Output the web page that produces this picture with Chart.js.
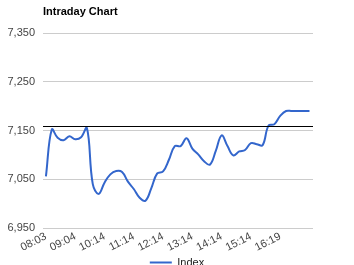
<!DOCTYPE html>
<html>
<head>
<meta charset="utf-8">
<script src="https://cdn.jsdelivr.net/npm/chart.js@4/dist/chart.umd.min.js"></script>
<style>
  html, body { margin: 0; padding: 0; background: #fff; overflow: hidden; }
  #wrap { position: absolute; left: 0; top: 0; width: 354px; height: 278px; }
</style>
</head>
<body>
<div id="wrap"><canvas id="intraday"></canvas></div>
<script>
// time labels shown every 5 samples
const timeLabels = ['08:03', '09:04', '10:14', '11:14', '12:14', '13:14', '14:14', '15:14', '16:19'];
const labelEvery = 5;

const indexValues = [
  7056, 7152, 7135, 7130, 7138, 7132, 7136, 7155, 7040, 7020,
  7043, 7060, 7067, 7065, 7045, 7030, 7012, 7006, 7032, 7062,
  7066, 7090, 7118, 7118, 7134, 7113, 7101, 7087, 7080, 7108,
  7140, 7118, 7099, 7107, 7110, 7124, 7122, 7120, 7160, 7163,
  7180, 7190, 7190, 7190, 7190, 7190
];

const refLevel = 7160;
const yTicks = [6950, 7050, 7150, 7250, 7350];

const points = indexValues.map((v, i) => ({ x: i, y: v }));

const titleAndRef = {
  id: 'titleAndRef',
  afterLayout(chart) {
    // centre the legend on the whole canvas, not the padded area
    if (chart.legend) {
      chart.legend.left = 0;
      chart.legend.right = chart.width;
      chart.legend.width = chart.width;
    }
  },
  afterDatasetsDraw(chart) {
    const { ctx, chartArea, scales } = chart;
    const y = Math.round(scales.y.getPixelForValue(refLevel)) + 0.5;
    ctx.save();
    ctx.strokeStyle = '#000';
    ctx.lineWidth = 1;
    ctx.beginPath();
    ctx.moveTo(chartArea.left, y);
    ctx.lineTo(chartArea.right, y);
    ctx.stroke();
    ctx.restore();
  },
  afterDraw(chart) {
    const { ctx, chartArea } = chart;
    ctx.save();
    ctx.font = 'bold 11px "Liberation Sans", Arial, sans-serif';
    ctx.fillStyle = '#000';
    ctx.textBaseline = 'middle';
    ctx.fillText('Intraday Chart', chartArea.left, 12);
    ctx.restore();
  }
};

new Chart(document.getElementById('intraday'), {
  type: 'line',
  data: {
    datasets: [{
      label: 'Index',
      data: points,
      borderColor: '#3366cc',
      backgroundColor: '#3366cc',
      borderWidth: 2,
      pointRadius: 0,
      tension: 0.4,
      fill: false,
    }]
  },
  options: {
    responsive: true,
    maintainAspectRatio: false,
    animation: false,
    layout: { padding: { top: 33, right: 41, left: 0, bottom: 0 } },
    plugins: {
      tooltip: { enabled: false },
      legend: {
        position: 'bottom',
        labels: {
          usePointStyle: true,
          pointStyle: 'line',
          pointStyleWidth: 22,
          boxHeight: 10,
          color: '#222',
          padding: 4,
          font: { family: '"Liberation Sans", Arial, sans-serif', size: 11 },
        }
      }
    },
    scales: {
      x: {
        type: 'linear',
        min: -0.5,
        max: 45.6,
        grid: { display: false, drawTicks: false },
        border: { display: false },
        afterFit(scale) { scale.height = 25; },
        ticks: {
          stepSize: labelEvery,
          includeBounds: false,
          autoSkip: false,
          minRotation: 27,
          maxRotation: 27,
          padding: 2,
          color: '#444',
          font: { family: '"Liberation Sans", Arial, sans-serif', size: 11 },
          callback: (v) => {
            const k = v / labelEvery;
            return Number.isInteger(k) && timeLabels[k] ? timeLabels[k] : '';
          }
        }
      },
      y: {
        min: 6950,
        max: 7350,
        afterFit(scale) { scale.width = 43; },
        afterBuildTicks(scale) { scale.ticks = yTicks.map(v => ({ value: v })); },
        grid: { color: '#cccccc', drawTicks: false },
        border: { display: false },
        ticks: {
          padding: 8,
          color: '#444',
          font: { family: '"Liberation Sans", Arial, sans-serif', size: 11 },
          callback: (v) => v.toLocaleString('en-US')
        }
      }
    }
  },
  plugins: [titleAndRef]
});
</script>
</body>
</html>
